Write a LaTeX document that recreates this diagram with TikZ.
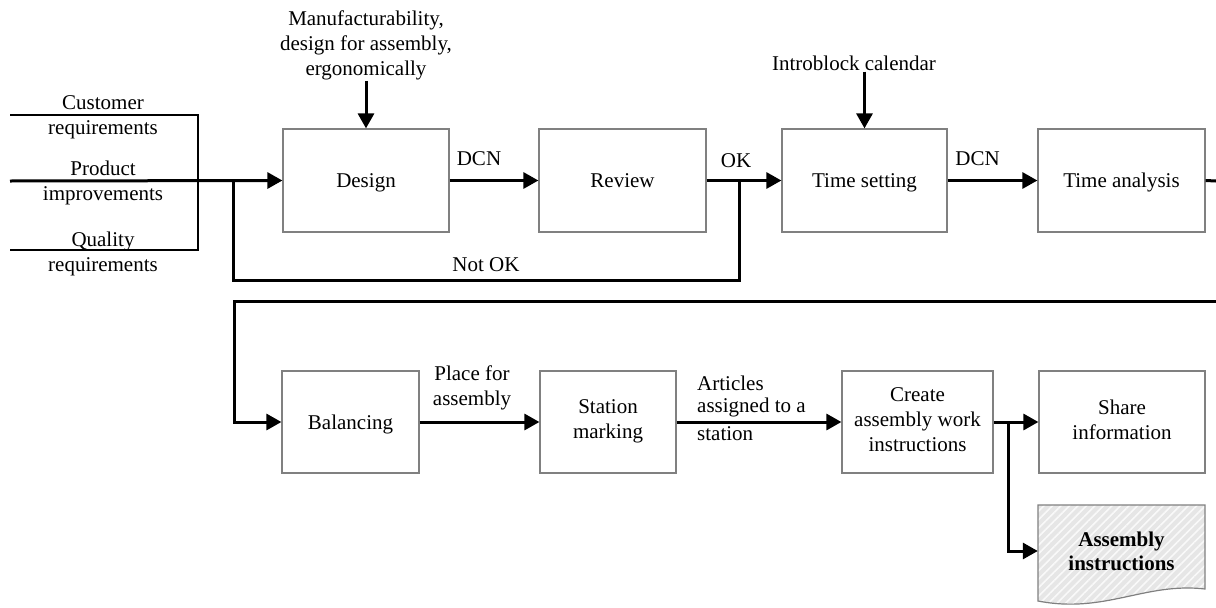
\documentclass[tikz,border=0pt]{standalone}
\usepackage{fontspec}
\setmainfont{Liberation Serif}
\usetikzlibrary{arrows.meta,patterns.meta}
\definecolor{boxgray}{RGB}{128,128,128}
\definecolor{docfill}{RGB}{230,230,230}
% fixed line height/depth so box texts sit evenly
\newcommand{\boxstrut}{\rule[-5pt]{0pt}{24pt}}
\begin{document}
\begin{tikzpicture}[x=1pt,y=-1pt,
  font=\fontsize{21}{25}\selectfont,
  stepbox/.style={draw=boxgray,line width=1.2pt,minimum height=103pt,inner sep=0pt,align=center,fill=white,
    execute at begin node=\boxstrut, execute at end node=\boxstrut},
  flow/.style={line width=3pt,-{Triangle[length=15pt,width=16pt]}},
  link/.style={line width=3pt},
  lbl/.style={inner sep=1pt,align=center},
  thinline/.style={line width=1.3pt},
]
\useasboundingbox (0,0) rectangle (1216,608);

% ---- first row ----
\node[stepbox,minimum width=166pt] (design) at (366,180.5) {Design};
\node[stepbox,minimum width=167pt] (review) at (622.5,180.5) {Review};
\node[stepbox,minimum width=165pt] (tset)   at (864.5,180.5) {Time setting};
\node[stepbox,minimum width=167pt] (tana)   at (1121.5,180.5) {Time analysis};

% inputs on the left
\node[lbl] (custreq) at (103,117.5) {Customer\\requirements};
\node[lbl] (prodimp) at (103,182.5) {Product\\improvements};
\node[lbl] (qualreq) at (103,253.5) {Quality\\requirements};
\coordinate (bt1) at (10,115);
\coordinate (bt2) at (198,115);
\coordinate (bb2) at (198,250);
\coordinate (bb1) at (10,250);
\draw[thinline] (bt1) -- (bt2) -- (bb2) -- (bb1);

\coordinate (src) at (10,181);
\coordinate (j1) at (233,181);
\coordinate (j2) at (739,181);
\draw[flow] (src) -- (design.west);

% constraints from above
\node[lbl] (mfg) at (366,45) {Manufacturability,\\design for assembly,\\ergonomically};
\node[lbl] (intro) at (854,63) {Introblock calendar};
\draw[flow] (mfg.south) -- (design.north);
\draw[flow] (tset.north |- intro.south) -- (tset.north);

% main flow
\draw[flow] (design.east) -- node[lbl,above=12pt,xshift=-15pt] (dcn1) {DCN} (review.west);
\draw[flow] (review.east) -- (tset.west);
\node[lbl,above=12pt] (ok) at (736,181) {OK};
\draw[flow] (tset.east) -- node[lbl,above=12pt,xshift=-15pt] (dcn2) {DCN} (tana.west);

% rework loop
\draw[link] (j2) -- (739,280) -- node[lbl,above=6pt,pos=0.5] (notok) {Not OK} (233,280) -- (j1);

% wrap to the second row
\coordinate (out) at (1216,181);
\coordinate (ret) at (1216,301);
\draw[link] (tana.east) -- (out);

% ---- second row ----
\node[stepbox,minimum width=137pt,minimum height=102pt] (bal)  at (350.5,422) {Balancing};
\node[stepbox,minimum width=136pt,minimum height=102pt] (stat) at (608,422) {Station\\marking};
\node[stepbox,minimum width=151pt,minimum height=102pt] (cawi) at (917.5,422) {Create\\assembly work\\instructions};
\node[stepbox,minimum width=166pt,minimum height=102pt] (share) at (1122,422) {Share\\information};

\draw[flow] (ret) -- (234,301) |- (bal.west);
\draw[flow] (bal.east) -- (stat.west);
\node[lbl,anchor=south] (place) at (472,411) {Place for\\assembly};
\draw[flow] (stat.east) -- (cawi.west);
\node[lbl,anchor=north west,align=left] (arts) at (696,375) {Articles\\[-3pt]assigned to a\\[3pt]station};

\coordinate (j3) at (1008,422);
\draw[flow] (cawi.east) -- (share.west);

% document output
\path[fill=docfill] (1038,505) -- (1205,505) -- (1205,589)
  .. controls (1145,582) and (1105,614) .. (1038,601) -- cycle;
\path[pattern={Lines[angle=45,distance=6pt,line width=1.6pt]},pattern color=white!75!docfill]
  (1038,505) -- (1205,505) -- (1205,589)
  .. controls (1145,582) and (1105,614) .. (1038,601) -- cycle;
\draw[boxgray,line width=1.2pt] (1038,505) -- (1205,505) -- (1205,589)
  .. controls (1145,582) and (1105,614) .. (1038,601) -- cycle;
\node[inner sep=0pt,minimum width=167pt,minimum height=92pt,align=center,
  font=\fontsize{21}{24}\selectfont\bfseries] (doc) at (1121.5,551) {Assembly\\instructions};
\draw[flow] (j3) |- (doc.west);
\end{tikzpicture}
\end{document}
